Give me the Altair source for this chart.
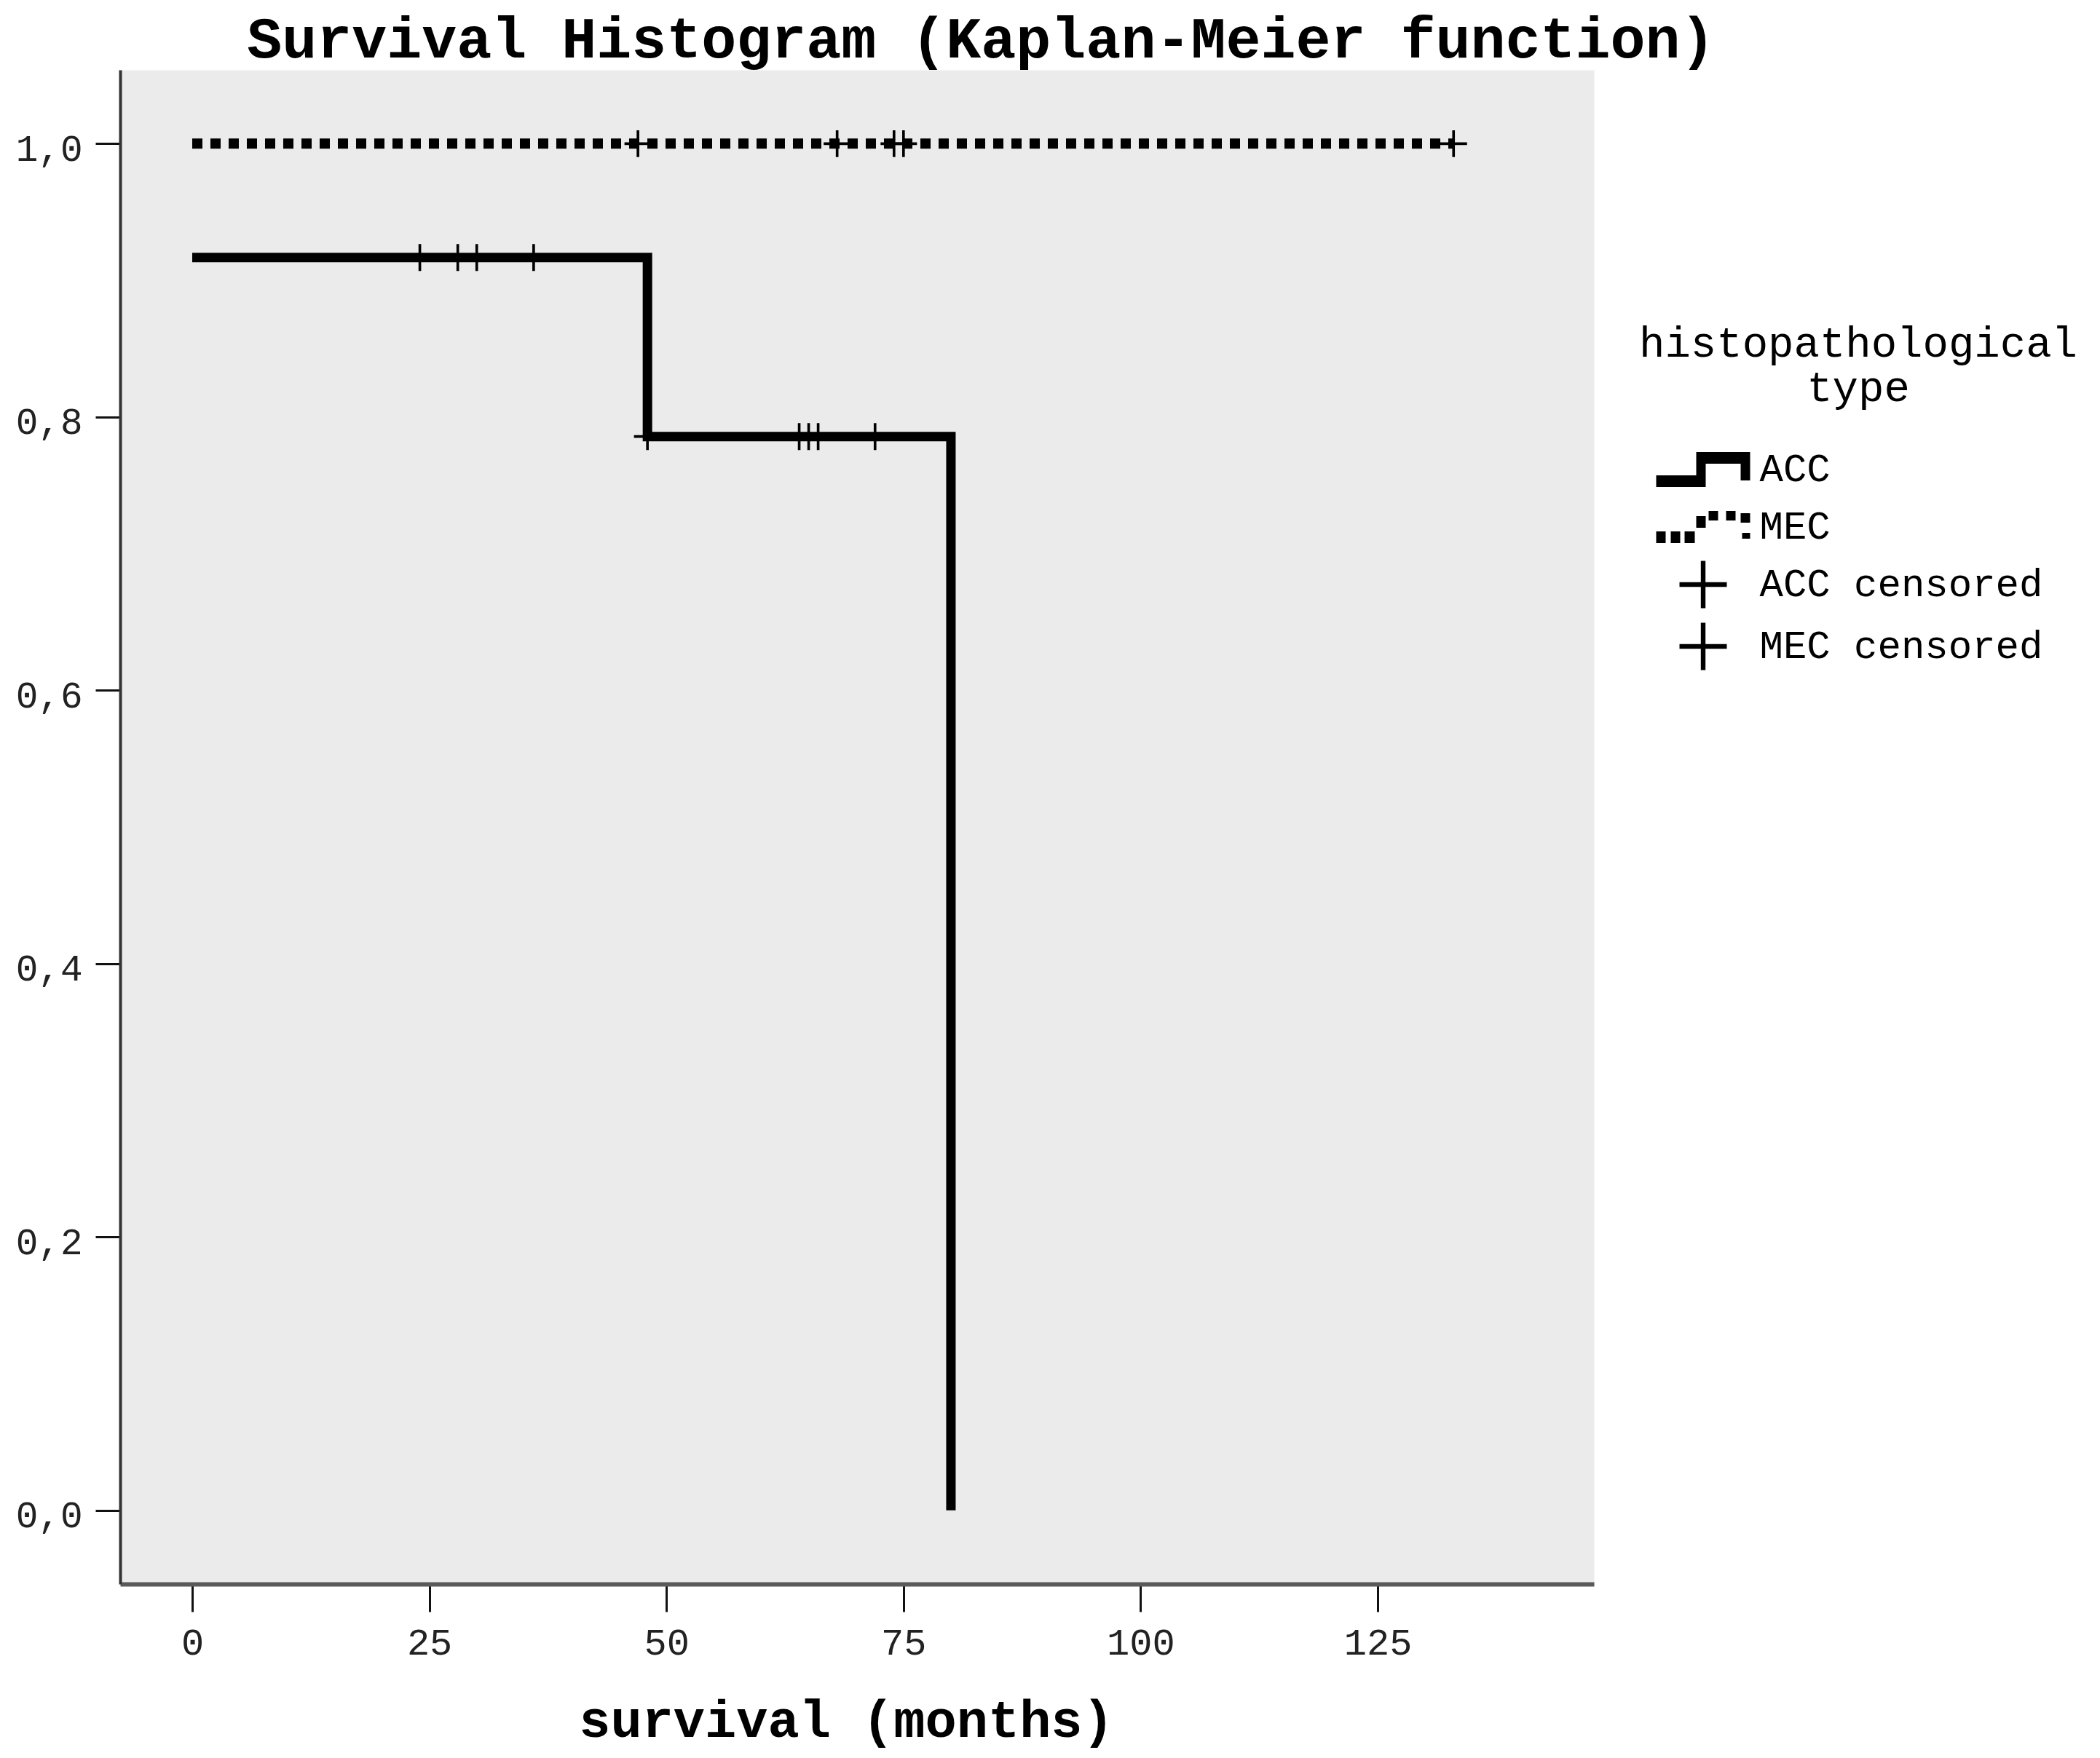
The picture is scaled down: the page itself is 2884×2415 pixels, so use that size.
import altair as alt
import pandas as pd

# ---- data ----
acc_time = [0, 48, 80]
acc_surv = [0.9167, 0.7857, 0.0]
mec_time = [0, 133]
mec_surv = [1.0, 1.0]
acc_cens_time = [24, 28, 30, 36, 48, 64, 65, 66, 72]
acc_cens_surv = [0.9167, 0.9167, 0.9167, 0.9167, 0.7857, 0.7857, 0.7857, 0.7857, 0.7857]
mec_cens_time = [47, 68, 74, 75, 133]
mec_cens_surv = [1.0, 1.0, 1.0, 1.0, 1.0]
legend_labels = ["ACC", "MEC", "ACC censored", "MEC censored"]
x_ticks = [0, 25, 50, 75, 100, 125]
y_ticks = [0.0, 0.2, 0.4, 0.6, 0.8, 1.0]

# ---- symbol styles (legend + censor marks) ----
def rect(x0, x1, y0, y1):
    return f"M{x0},{y0}H{x1}V{y1}H{x0}Z"

STEP_SOLID = "M-1.6125,0.2H-0.2375V-0.6H1.6125V0.375H1.2875V-0.2H0.0875V0.6H-1.6125Z"
STEP_DOTTED = "".join([
    rect(-1.6125, -1.2875, 0.15, 0.55),
    rect(-1.1125, -0.7875, 0.15, 0.55),
    rect(-0.6375, -0.2875, 0.15, 0.55),
    rect(-0.2375, 0.0875, -0.375, 0.025),
    rect(0.1875, 0.5125, -0.55, -0.225),
    rect(0.7875, 1.1125, -0.55, -0.225),
    rect(1.2875, 1.6125, -0.475, -0.15),
    rect(1.3375, 1.6125, 0.2, 0.4),
])
PLUS = "M-0.8125,-0.08H-0.08V-0.8125H0.08V-0.08H0.8125V0.08H0.08V0.8125H-0.08V0.08H-0.8125Z"

FONT = "Liberation Mono"

acc_df = pd.DataFrame({"time": acc_time, "surv": acc_surv})
mec_df = pd.DataFrame({"time": mec_time, "surv": mec_surv})
cens_df = pd.concat([
    pd.DataFrame({"time": acc_cens_time, "surv": acc_cens_surv, "group": "ACC censored"}),
    pd.DataFrame({"time": mec_cens_time, "surv": mec_cens_surv, "group": "MEC censored"}),
], ignore_index=True)

x_enc = alt.X(
    "time:Q",
    scale=alt.Scale(domain=[-7.6, 147.8], nice=False, zero=False),
    axis=alt.Axis(
        values=x_ticks, format="d", title="survival (months)",
        titleFont=FONT, titleFontSize=72, titleFontWeight="bold", titleColor="black",
        titleBaseline="alphabetic", titleY=209, titleX=997,
        labelFont=FONT, labelFontSize=52, labelColor="#222222", labelPadding=17,
        tickSize=38, tickWidth=3, tickColor="#111111",
        domainColor="#5a5a5a", domainWidth=6, grid=False,
    ),
)
y_enc = alt.Y(
    "surv:Q",
    scale=alt.Scale(domain=[-0.054, 1.054], nice=False, zero=False),
    axis=alt.Axis(
        values=y_ticks, title=None,
        labelExpr="replace(format(datum.value, '.1f'), '.', ',')",
        labelFont=FONT, labelFontSize=51, labelColor="#222222", labelPadding=18,
        labelOffset=8,
        tickSize=34, tickWidth=3, tickColor="#111111",
        domainColor="#333333", domainWidth=4, grid=False,
    ),
)

acc_line = alt.Chart(acc_df).mark_line(
    interpolate="step-after", color="black", strokeWidth=13,
    strokeCap="butt", strokeJoin="miter",
).encode(x=x_enc, y=y_enc)

mec_line = alt.Chart(mec_df).mark_line(
    interpolate="step-after", color="black", strokeWidth=14,
    strokeCap="butt", strokeDash=[14, 11],
).encode(x=x_enc, y=y_enc)

points = alt.Chart(cens_df).mark_point(
    filled=True, color="black", size=2070, opacity=1, strokeWidth=0,
).encode(
    x=x_enc, y=y_enc,
    shape=alt.Shape(
        "group:N",
        scale=alt.Scale(domain=legend_labels, range=[STEP_SOLID, STEP_DOTTED, PLUS, PLUS]),
        legend=alt.Legend(
            title=["histopathological", "type"],
            orient="none", legendX=2086, legendY=347,
            titleFont=FONT, titleFontSize=59, titleFontWeight="normal", titleColor="black",
            titleAnchor="middle", titleAlign="center", titleLineHeight=61,
            titleBaseline="top", titlePadding=42, titleLimit=0,
            labelFont=FONT, labelFontSize=54, labelColor="black", labelOffset=37.5,
            labelLimit=0,
            symbolSize=6400, symbolStrokeWidth=0, symbolFillColor="black",
            symbolOpacity=1, rowPadding=12, padding=0,
        ),
    ),
)

chart = alt.layer(acc_line, mec_line, points).properties(
    width=2024,
    height=2080,
    background="white",
    autosize=alt.AutoSizeParams(type="none"),
    padding={"left": 157, "top": 88, "right": 685, "bottom": 231},
    title=alt.TitleParams(
        "Survival Histogram (Kaplan-Meier function)",
        font=FONT, fontSize=80, fontWeight="bold", color="black",
        anchor="start", dx=318, dy=66, offset=3, baseline="alphabetic",
    ),
).configure_view(fill="#ebebeb", stroke="transparent")

chart.save("out.html", embed_options={"renderer": "svg", "actions": False})
